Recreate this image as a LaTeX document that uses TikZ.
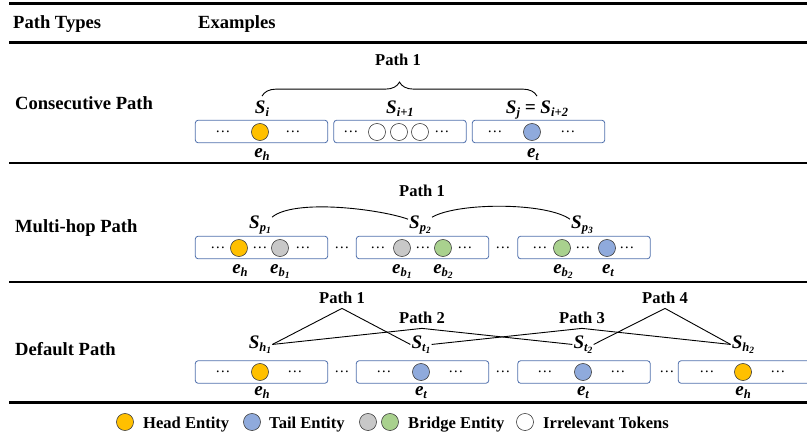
\documentclass[tikz,border=0pt]{standalone}
\usepackage{fontspec}
\setmainfont{Liberation Serif}
\usetikzlibrary{decorations.pathreplacing}

\definecolor{segblue}{RGB}{80,112,172}
\definecolor{headc}{RGB}{255,192,0}
\definecolor{tailc}{RGB}{143,170,220}
\definecolor{bridgea}{RGB}{200,200,200}
\definecolor{bridgeb}{RGB}{169,209,142}

% label with subscript, and a smaller one for a subscript inside it
\newcommand{\lbl}[2]{#1\raisebox{-0.4ex}{\fontsize{12.5}{12.5}\selectfont #2}}
\newcommand{\sbl}[2]{#1\raisebox{-0.35ex}{\fontsize{9.5}{9.5}\selectfont #2}}

\begin{document}
\begin{tikzpicture}[x=0.035cm,y=0.035cm]
\tikzstyle{every node}=[font=\bfseries, inner sep=1pt]
\tikzstyle{seg}=[draw=segblue, line width=0.8pt, rounded corners=3pt, minimum width=132pt, minimum height=22.5pt]
\tikzstyle{tok}=[circle, draw=black!75, line width=0.6pt, minimum size=17pt, inner sep=0pt]
\tikzstyle{dots}=[font=\fontsize{15}{15}\selectfont]
\tikzstyle{lab}=[anchor=base, font=\fontsize{19}{20}\selectfont\bfseries\itshape]
\tikzstyle{pathlab}=[anchor=base, font=\fontsize{16.5}{18}\selectfont\bfseries, inner sep=5pt]
\tikzstyle{rowlab}=[anchor=base west, font=\fontsize{18.5}{20}\selectfont\bfseries]
\tikzstyle{leglab}=[anchor=base west, font=\fontsize{16.5}{18}\selectfont\bfseries]
\tikzstyle{rule}=[line width=2.8pt]
\tikzstyle{link}=[line width=0.9pt]

\clip (0,0) rectangle (807,-436);

% header
\draw[rule] (9,-3.5) -- (807,-3.5);
\node[rowlab] (types) at (12,-28) {Path Types};
\node[rowlab] (examples) at (197,-28) {Examples};
\draw[rule] (9,-42.5) -- (807,-42.5);

% consecutive path
\node[rowlab] (consec) at (14,-109) {Consecutive Path};
\node[seg] (ca) at (261.5,-131.5) {};
\node[seg] (cb) at (400,-131.5) {};
\node[seg] (cc) at (538.5,-131.5) {};
\foreach \x/\n in {223/1,293/2,351/3,442/4,495/5,568/6}
  \node[dots] (cd\n) at (\x,-132) {\dots};
\node[tok, fill=headc] (ch) at (260,-132) {};
\foreach \x/\n in {377/1,399/2,420/3}
  \node[tok, fill=white] (cw\n) at (\x,-132) {};
\node[tok, fill=tailc] (ct) at (532,-132) {};
\node[lab] (si) at (262,-113) {\lbl{S}{i}};
\node[lab] (si1) at (400,-113) {\lbl{S}{i+1}};
\node[lab] (sj) at (537,-113) {\lbl{S}{j} = \lbl{S}{i+2}};
\node[lab] (ceh) at (262,-157) {\lbl{e}{h}};
\node[lab] (cet) at (533,-157) {\lbl{e}{t}};
\draw[link, decorate, decoration={brace, amplitude=14pt}] ([yshift=3pt]si.north) -- ([yshift=3pt]sj.north);
\node[pathlab] (cp1) at (398,-65) {Path 1};
\draw[rule] (9,-163) -- (807,-163);

% multi-hop path
\node[rowlab] (multi) at (14,-232) {Multi-hop Path};
\node[seg] (ma) at (261.5,-247.5) {};
\node[seg] (mb) at (422.5,-247.5) {};
\node[seg] (mc) at (584,-247.5) {};
\foreach \x/\n in {218/1,260/2,303/3,342/4,378/5,423/6,465/7,503/8,540/9,583/10,627/11}
  \node[dots] (md\n) at (\x,-248) {\dots};
\node[tok, fill=headc] (mh) at (239,-248) {};
\node[tok, fill=bridgea] (mg1) at (280,-248) {};
\node[tok, fill=bridgea] (mg2) at (402,-248) {};
\node[tok, fill=bridgeb] (mn1) at (443,-248) {};
\node[tok, fill=bridgeb] (mn2) at (562,-248) {};
\node[tok, fill=tailc] (mt) at (607,-248) {};
\node[lab] (sp1) at (260,-228) {\lbl{S}{\sbl{p}{1}}};
\node[lab] (sp2) at (420,-228) {\lbl{S}{\sbl{p}{2}}};
\node[lab] (sp3) at (582,-228) {\lbl{S}{\sbl{p}{3}}};
\node[lab] (meh) at (240,-273) {\lbl{e}{h}};
\node[lab] (meb1) at (280,-273) {\lbl{e}{\sbl{b}{1}}};
\node[lab] (meb2) at (402,-273) {\lbl{e}{\sbl{b}{1}}};
\node[lab] (meb3) at (443,-273) {\lbl{e}{\sbl{b}{2}}};
\node[lab] (meb4) at (563,-273) {\lbl{e}{\sbl{b}{2}}};
\node[lab] (met) at (608,-273) {\lbl{e}{t}};
\draw[link] ([yshift=-3pt]sp1.north east) to[out=40,in=160,looseness=0.55] ([yshift=-5pt]sp2.north west);
\draw[link] ([yshift=-3pt]sp2.north east) to[out=30,in=145,looseness=0.55] ([yshift=-5pt]sp3.north west);
\node[pathlab] (mp1) at (422,-196) {Path 1};
\draw[rule] (9,-282) -- (807,-282);

% default path
\node[rowlab] (default) at (14,-355) {Default Path};
\node[seg] (da) at (261.5,-372) {};
\node[seg] (db) at (422.5,-372) {};
\node[seg] (dc) at (584,-372) {};
\node[seg] (dd) at (744.5,-372) {};
\foreach \x/\n in {223/1,295/2,342/3,384/4,456/5,503/6,545/7,618/8,667/9,707/10,778/11}
  \node[dots] (dd\n) at (\x,-372) {\dots};
\node[tok, fill=headc] (dh1) at (260,-372) {};
\node[tok, fill=tailc] (dt1) at (421,-372) {};
\node[tok, fill=tailc] (dt2) at (583,-372) {};
\node[tok, fill=headc] (dh2) at (743,-372) {};
\node[lab] (sh1) at (260,-348) {\lbl{S}{\sbl{h}{1}}};
\node[lab] (st1) at (421,-348) {\lbl{S}{\sbl{t}{1}}};
\node[lab] (st2) at (583,-348) {\lbl{S}{\sbl{t}{2}}};
\node[lab] (sh2) at (743,-348) {\lbl{S}{\sbl{h}{2}}};
\node[lab] (deh1) at (262,-395) {\lbl{e}{h}};
\node[lab] (det1) at (421,-395) {\lbl{e}{t}};
\node[lab] (det2) at (583,-395) {\lbl{e}{t}};
\node[lab] (deh2) at (743,-395) {\lbl{e}{h}};
\node[pathlab] (pa1) at (342,-303) {Path 1};
\node[pathlab] (pa2) at (422,-323) {Path 2};
\node[pathlab] (pa3) at (582,-323) {Path 3};
\node[pathlab] (pa4) at (665,-303) {Path 4};
\draw[link] (sh1.east) -- (pa1.south) -- (st1.west);
\draw[link] (sh1.east) -- (pa2.south) -- (st2.west);
\draw[link] (st1.east) -- (pa3.south) -- (sh2.west);
\draw[link] (st2.east) -- (pa4.south) -- (sh2.west);
\draw[rule] (9,-402.5) -- (807,-402.5);

% legend
\node[tok, fill=headc] (lgh) at (125,-422) {};
\node[leglab] (lgth) at (142,-428) {Head Entity};
\node[tok, fill=tailc] (lgt) at (252,-422) {};
\node[leglab] (lgtt) at (268,-428) {Tail Entity};
\node[tok, fill=bridgea] (lgb1) at (368,-422) {};
\node[tok, fill=bridgeb] (lgb2) at (390,-422) {};
\node[leglab] (lgtb) at (407,-428) {Bridge Entity};
\node[tok, fill=white] (lgw) at (525,-422) {};
\node[leglab] (lgtw) at (542,-428) {Irrelevant Tokens};
\end{tikzpicture}
\end{document}
